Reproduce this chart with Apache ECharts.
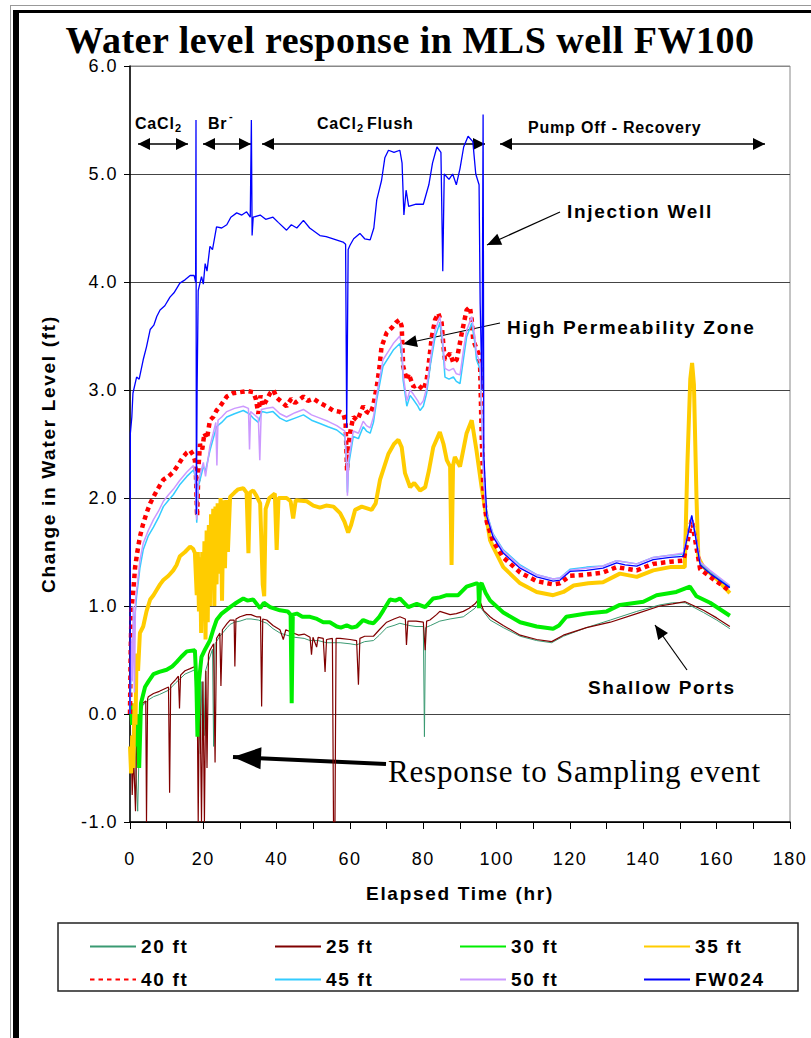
<!DOCTYPE html>
<html style="height:100%">
<head>
    <meta charset="utf-8">
    <title>Water level response in MLS well FW100</title>
    <script src="https://cdn.jsdelivr.net/npm/echarts@6/dist/echarts.min.js"></script>
    <style>
        html, body { margin: 0; padding: 0; background: #fff; }
    </style>
</head>
<body>
    <div id="main" style="width:811px;height:1038px;"></div>
    <script type="text/javascript">
        // series data: [elapsed hr, change in water level ft]
        var s20ft = [[0.3,-0.3],[0.8,-0.5],[1.3,-0.2],[1.7,-0.6],[2.1,-0.9],[2.5,-0.3],[3,0.0],[3.5,0.08],[5,0.13],[6.4,0.16],[8,0.18],[10.5,0.22],[12.5,0.29],[13.8,0.33],[15,0.37],[16.4,0.39],[17.7,0.41],[18.2,-0.1],[18.5,0.35],[19.2,-0.37],[19.6,0.3],[20.2,-0.2],[20.6,0.4],[21.5,0.5],[22.5,0.6],[22.8,-0.3],[23.2,0.65],[24.5,0.72],[26.5,0.8],[27.3,0.83],[28.5,0.85],[30,0.86],[31.8,0.88],[33,0.88],[35,0.87],[37.3,0.84],[39,0.79],[40.9,0.75],[42.7,0.73],[45,0.71],[47.5,0.7],[49.1,0.68],[51.3,0.68],[53.6,0.66],[55.2,0.66],[57.3,0.66],[60,0.65],[61.8,0.64],[64,0.67],[66.4,0.68],[68,0.73],[70,0.8],[72,0.82],[73.6,0.84],[76,0.82],[78,0.81],[80,0.81],[80.3,-0.21],[80.6,0.8],[82,0.82],[84.5,0.86],[87.3,0.88],[90.9,0.9],[92.5,0.94],[94.1,0.98],[95,1.02],[96.4,0.95],[98.2,0.87],[101.8,0.8],[106.4,0.72],[110.9,0.68],[115,0.66],[118.2,0.72],[124.5,0.8],[131,0.87],[138.2,0.95],[144.5,1.01],[148,1.03],[151.4,1.03],[156.4,0.94],[160,0.87],[163.6,0.79]];
        var s25ft = [[0.3,-0.2],[0.6,-0.75],[1,-0.4],[1.5,-0.9],[1.8,-0.24],[2.3,-0.5],[2.8,0.0],[3.5,0.1],[4.3,0.12],[4.5,-1.0],[4.8,0.14],[5,0.16],[6.4,0.19],[8,0.21],[10.5,0.25],[10.8,-0.73],[11.1,0.27],[12.5,0.32],[13.2,0.35],[13.5,0.05],[13.8,0.36],[15,0.4],[16.4,0.42],[17.7,0.44],[18.3,0.3],[18.6,-1.0],[19,0.45],[19.5,-1.0],[19.9,0.3],[20.3,-1.0],[20.7,0.4],[21,-0.5],[21.4,0.55],[21.8,0.59],[22.8,0.65],[23.2,-0.45],[23.6,0.7],[24.5,0.75],[24.8,0.26],[25.2,0.78],[26.5,0.84],[27.3,0.87],[28.4,0.87],[28.6,0.44],[28.9,0.88],[30,0.9],[31.8,0.92],[33,0.92],[34.5,0.9],[35.6,0.9],[35.9,0.07],[36.2,0.88],[37.3,0.87],[39,0.82],[40.9,0.78],[41.8,0.69],[42.5,0.78],[44.5,0.75],[46,0.73],[47.5,0.74],[49.1,0.71],[49.5,0.55],[49.9,0.71],[50.9,0.62],[51.3,0.71],[52.7,0.7],[53.2,0.39],[53.6,0.69],[55.2,0.7],[55.5,-1.0],[55.9,-1.0],[56.2,0.7],[57.3,0.7],[60,0.69],[61.8,0.68],[62.3,0.27],[62.7,0.7],[64,0.72],[66.4,0.72],[68,0.78],[70,0.85],[72,0.88],[73.6,0.9],[75.1,0.88],[75.4,0.64],[75.8,0.86],[78,0.86],[80,0.85],[80.5,0.59],[80.9,0.86],[81.8,0.87],[83.6,0.92],[84.5,0.95],[87.3,0.92],[89,0.93],[90.9,0.95],[92.5,0.98],[94.1,1.02],[95,1.06],[95.5,1.04],[96.4,0.96],[98.2,0.9],[99,0.88],[101.8,0.82],[106.4,0.73],[110.9,0.69],[115,0.67],[118.2,0.73],[124.5,0.8],[131,0.85],[138.2,0.93],[144.5,1.0],[148,1.02],[151.4,1.04],[156.4,0.96],[160,0.89],[163.6,0.81]];
        var s30ft = [[0.2,0.1],[0.6,-0.1],[1,0.05],[1.5,-0.3],[2,0.0],[2.5,-0.5],[3,0.1],[4.1,0.25],[5,0.3],[6.4,0.37],[8,0.39],[10,0.41],[11.5,0.44],[12.7,0.48],[14,0.53],[15.5,0.58],[17.7,0.59],[18.1,0.3],[18.4,-0.21],[18.8,0.3],[19.5,0.53],[20.5,0.6],[21.8,0.68],[22.7,0.78],[23.6,0.87],[25,0.93],[27.3,0.99],[29,1.03],[30.9,1.07],[32,1.05],[33.6,1.06],[35,1.0],[35.5,0.98],[36.5,1.03],[38.2,0.99],[40.9,0.96],[43,0.95],[43.8,0.92],[44.1,0.1],[44.4,0.92],[45.5,0.93],[47,0.9],[49.1,0.9],[51,0.88],[52.7,0.85],[54.5,0.85],[56.4,0.81],[57.5,0.8],[59.1,0.82],[60.5,0.8],[61.8,0.81],[63.6,0.87],[65,0.85],[66.4,0.84],[68,0.9],[69.1,0.96],[70.9,1.06],[72.5,1.05],[73.6,1.07],[75.9,0.99],[78.2,1.02],[80.5,0.99],[82.7,1.07],[84.5,1.08],[86.4,1.1],[89.5,1.1],[91.8,1.18],[94.5,1.21],[95,1.2],[95.2,0.98],[95.5,1.2],[95.9,1.21],[97,1.12],[98.2,1.05],[101.8,0.94],[106.4,0.85],[110.9,0.81],[115.4,0.79],[117,0.82],[119,0.9],[124.5,0.93],[130,0.95],[133.6,1.01],[140,1.04],[143.6,1.1],[149,1.13],[152.7,1.18],[154.5,1.09],[158.2,1.03],[163.6,0.91]];
        var s35ft = [[0,-0.3],[0.3,-0.55],[0.6,-0.2],[0.9,-0.5],[1.2,0.1],[1.5,-0.1],[1.8,0.56],[2.2,0.4],[2.7,0.75],[3.6,0.81],[4.5,0.95],[5.5,1.06],[6.4,1.1],[7.3,1.15],[8.2,1.2],[9.1,1.24],[10.5,1.28],[11.8,1.33],[12.7,1.38],[13.6,1.46],[15,1.5],[16.4,1.55],[17.2,1.53],[17.7,1.49],[18.2,1.1],[18.5,1.5],[18.8,0.95],[19.1,1.45],[19.4,0.75],[19.7,1.5],[20,0.9],[20.3,1.6],[20.6,0.69],[20.9,1.7],[21.2,0.85],[21.5,1.75],[21.8,1.0],[22.1,1.85],[22.4,1.15],[22.7,1.9],[23,1.0],[23.3,1.92],[23.6,1.2],[23.9,1.95],[24.3,1.3],[24.7,2.0],[25.1,1.05],[25.5,1.98],[25.9,1.35],[26.3,1.98],[26.7,1.5],[27.3,2.01],[28.5,2.05],[29.5,2.08],[30.9,2.09],[31.8,2.05],[32.3,1.49],[32.7,2.05],[33.6,2.07],[34.5,2.02],[35.5,1.95],[36.2,1.2],[36.6,1.09],[37,1.9],[38,2.0],[39.5,2.04],[40,1.52],[40.5,2.0],[42.7,2.0],[43.8,1.97],[44.5,1.81],[45.2,1.98],[48.2,1.97],[50,1.93],[51.8,1.91],[53.5,1.93],[55.5,1.92],[57.3,1.86],[58.5,1.78],[59.5,1.68],[60.3,1.75],[61.4,1.89],[63.2,1.92],[65.9,1.89],[67,1.95],[68.2,2.17],[70.5,2.41],[72,2.5],[73.2,2.54],[74.1,2.47],[75,2.23],[76.4,2.1],[77.5,2.14],[79.1,2.07],[80.5,2.1],[81.5,2.25],[82.7,2.47],[84.5,2.61],[85.5,2.5],[86.4,2.35],[87.3,2.29],[87.7,1.38],[88.1,2.3],[88.6,2.38],[90,2.29],[91.8,2.6],[93.2,2.72],[94.5,2.44],[95.9,2.1],[97.3,1.8],[98.2,1.61],[99,1.55],[101.8,1.36],[106.4,1.21],[110.9,1.13],[115.4,1.1],[118.2,1.13],[121,1.19],[125,1.21],[129,1.22],[133.6,1.3],[138.2,1.27],[142.7,1.33],[147.3,1.36],[151.3,1.36],[152,2.3],[152.8,3.1],[153.3,3.25],[153.8,3.05],[154.5,2.0],[155,1.45],[156.4,1.36],[160,1.25],[163.6,1.12]];
        var s40ft = [[0,0],[0.2,0.6],[0.45,0.99],[0.8,1.1],[1.4,1.36],[2,1.5],[2.7,1.64],[3.5,1.75],[4.5,1.86],[5.5,1.95],[6.4,2.01],[7.5,2.08],[9.1,2.17],[10.5,2.2],[11.8,2.24],[13,2.3],[14.5,2.38],[15.5,2.42],[16.4,2.44],[17.2,2.4],[17.7,2.35],[18,2.2],[18.3,1.83],[18.7,2.3],[19.1,2.5],[19.7,2.45],[20.3,2.6],[21,2.55],[21.8,2.72],[22.7,2.75],[23.6,2.81],[25,2.87],[26.4,2.94],[28,2.97],[30,2.98],[32,2.99],[33.6,2.98],[34.3,2.92],[35,2.78],[35.6,2.95],[36.3,2.85],[37.3,2.91],[38.2,2.97],[39.1,3.0],[40,2.93],[41,2.9],[42.7,2.85],[44,2.92],[45,2.88],[47.3,2.94],[48.5,2.9],[50,2.92],[51.8,2.88],[53.5,2.85],[55.4,2.81],[57,2.8],[58.2,2.78],[58.8,2.7],[59.2,2.25],[59.5,2.45],[60,2.6],[60.9,2.75],[62,2.72],[63.6,2.85],[64.5,2.8],[65.5,2.78],[66.3,2.85],[67.3,3.03],[68,3.2],[68.6,3.4],[70,3.53],[71.5,3.58],[72.7,3.63],[73.5,3.65],[74.1,3.59],[74.5,3.22],[75.5,3.09],[76,3.15],[77.3,3.03],[78.5,3.05],[80,3.0],[80.9,3.09],[81.5,3.25],[82.3,3.49],[83.2,3.65],[84.1,3.71],[85,3.62],[85.5,3.4],[85.9,3.28],[87.3,3.34],[88.2,3.25],[89.1,3.28],[90.5,3.53],[91.8,3.74],[92.7,3.77],[93.2,3.65],[93.6,3.46],[95,3.34],[95.5,3.2],[95.9,2.6],[96.4,2.05],[97.3,1.78],[99,1.6],[101.8,1.45],[106.4,1.31],[110.9,1.23],[115.4,1.2],[117.3,1.21],[120,1.28],[124.5,1.29],[129,1.31],[132.7,1.36],[138.2,1.33],[142.7,1.39],[147.3,1.41],[150.9,1.42],[152.2,1.62],[153.2,1.8],[154.1,1.62],[155.5,1.34],[158.2,1.27],[163.6,1.14]];
        var s45ft = [[0,0],[0.3,0.4],[0.8,0.7],[1.8,1.09],[2.7,1.35],[3.6,1.52],[5,1.65],[6.4,1.73],[7.8,1.82],[9.1,1.92],[10.5,1.98],[11.8,2.03],[13.5,2.12],[15.5,2.2],[17.3,2.26],[17.8,2.2],[18.2,1.77],[18.6,2.1],[20,2.29],[20.6,2.25],[21.8,2.44],[22.7,2.55],[23.6,2.66],[25,2.7],[26.4,2.75],[28.5,2.78],[30.9,2.81],[32.5,2.78],[33.6,2.74],[35,2.7],[36,2.8],[37.3,2.79],[39,2.8],[40.9,2.74],[42.7,2.71],[45,2.74],[47.3,2.77],[49.5,2.72],[51.8,2.69],[54,2.66],[56.4,2.63],[58.6,2.57],[59.1,2.3],[59.3,2.05],[59.6,2.3],[60.9,2.57],[62.3,2.55],[63.6,2.66],[64.5,2.62],[65.5,2.6],[66.4,2.7],[67.3,2.91],[69,3.22],[70.5,3.3],[71.8,3.37],[73.6,3.43],[74.2,3.3],[74.5,3.09],[75.5,2.85],[76.4,2.95],[77.3,2.91],[78.5,2.85],[79.1,2.81],[80,2.85],[80.9,2.97],[82,3.25],[83.2,3.49],[84.5,3.62],[85.2,3.45],[85.9,3.12],[87,3.1],[88.2,3.12],[89,3.08],[90,3.06],[91,3.3],[91.8,3.49],[93.2,3.62],[94,3.45],[94.5,3.28],[95.5,3.19],[96,2.7],[96.5,2.15],[97.3,1.86],[99,1.67],[101.8,1.52],[106.4,1.38],[110.9,1.29],[115.4,1.25],[117.3,1.26],[120,1.34],[124.5,1.36],[129,1.37],[132.7,1.42],[138.2,1.39],[142.7,1.45],[147.3,1.47],[150.9,1.48],[152.2,1.68],[153.2,1.83],[154.1,1.67],[155.5,1.4],[158.2,1.32],[163.6,1.18]];
        var s50ft = [[0,0],[0.3,0.7],[0.6,0.3],[0.9,1.0],[1.2,0.2],[1.5,1.05],[2,1.2],[2.7,1.42],[3.6,1.58],[5,1.7],[6.4,1.8],[7.8,1.88],[9.1,1.97],[10.5,2.03],[11.8,2.08],[13.5,2.16],[15.5,2.24],[17.3,2.3],[17.8,2.22],[18.2,1.8],[18.6,2.15],[20,2.33],[20.6,2.2],[21.8,2.48],[22.7,2.6],[23.4,2.7],[23.7,2.3],[24,2.72],[25,2.75],[26.4,2.8],[28.5,2.83],[30.9,2.85],[32.3,2.83],[32.6,2.45],[32.9,2.8],[33.6,2.78],[35,2.74],[35.4,2.35],[35.8,2.82],[37.3,2.83],[39,2.84],[40.9,2.78],[42.7,2.75],[45,2.79],[47.3,2.82],[49.5,2.77],[51.8,2.74],[54,2.71],[56.4,2.67],[58.6,2.62],[59.1,2.3],[59.3,2.02],[59.6,2.35],[60.9,2.62],[62.3,2.6],[63.6,2.71],[64.5,2.67],[65.5,2.65],[66.4,2.75],[67.3,2.96],[69,3.28],[70.5,3.36],[71.8,3.43],[73.6,3.5],[74.2,3.38],[74.5,3.14],[75.5,2.9],[76.4,3.0],[77.3,2.96],[78.5,2.9],[79.1,2.86],[80,2.9],[80.9,3.02],[82,3.3],[83.2,3.55],[84.5,3.68],[85.2,3.5],[85.9,3.2],[87,3.18],[88.2,3.2],[89,3.15],[90,3.14],[91,3.38],[91.8,3.55],[93.2,3.68],[94,3.5],[94.5,3.34],[95.5,3.25],[96,2.72],[96.5,2.14],[97.3,1.85],[99,1.66],[101.8,1.51],[106.4,1.37],[110.9,1.29],[115.4,1.25],[117.3,1.26],[120,1.33],[124.5,1.35],[129,1.37],[132.7,1.42],[138.2,1.39],[142.7,1.45],[147.3,1.47],[150.9,1.49],[152.2,1.68],[153.2,1.82],[154.1,1.68],[155.5,1.41],[158.2,1.33],[163.6,1.19]];
        var fw024 = [[0,0],[0.1,2.6],[0.5,2.75],[0.8,2.97],[1.8,3.12],[2.5,3.1],[3.6,3.28],[4.5,3.4],[5.5,3.56],[6.5,3.6],[7.3,3.68],[8.2,3.74],[9.5,3.78],[10.9,3.86],[12,3.9],[13.6,3.99],[15,4.02],[16.4,4.06],[17.5,4.06],[17.9,4.0],[18,5.5],[18.1,1.85],[18.3,3.0],[18.6,3.92],[19.5,4.05],[20,3.98],[20.5,4.17],[21,4.1],[21.8,4.33],[22.5,4.3],[23.6,4.51],[25,4.5],[26.4,4.53],[27.5,4.6],[29.1,4.64],[30.5,4.62],[31.8,4.65],[32.8,4.6],[33.1,5.5],[33.3,4.43],[33.6,4.6],[35.5,4.62],[37,4.58],[39,4.6],[40.5,4.55],[42.7,4.48],[44,4.53],[45.5,4.5],[47.3,4.57],[49,4.5],[51.8,4.43],[53.5,4.42],[55.4,4.4],[58.1,4.37],[58.8,4.35],[59.1,2.65],[59.5,4.3],[60,4.34],[61,4.4],[62.7,4.45],[64,4.4],[65.5,4.39],[66.5,4.5],[67.3,4.76],[68.6,4.94],[69.5,5.15],[70.5,5.22],[72,5.2],[73.6,5.22],[74.2,5.1],[74.7,4.62],[75.3,4.85],[76,4.7],[78,4.72],[80,4.72],[81.5,4.9],[82.5,5.1],[83.7,5.25],[84.8,5.2],[85.3,4.1],[85.7,5.0],[87,4.95],[88,5.0],[89,4.9],[90,5.05],[91,5.25],[92.2,5.35],[93.5,5.3],[94.3,5.0],[95.2,4.9],[95.5,3.8],[96,3.0],[96.3,5.55],[96.5,2.4],[97.3,1.83],[99,1.64],[101.8,1.49],[106.4,1.35],[110.9,1.27],[115.4,1.23],[117.3,1.24],[120,1.32],[124.5,1.33],[129,1.35],[132.7,1.4],[135,1.38],[138.2,1.37],[142.7,1.43],[147.3,1.45],[150.9,1.46],[152.2,1.67],[153.2,1.84],[154.1,1.67],[155.5,1.38],[158.2,1.3],[163.6,1.17]];

        var seriesNames = ['20 ft', '25 ft', '30 ft', '35 ft', '40 ft', '45 ft', '50 ft', 'FW024'];
        var seriesData = [s20ft, s25ft, s30ft, s35ft, s40ft, s45ft, s50ft, fw024];
        var yTicks = [-1, 0, 1, 2, 3, 4, 5, 6];

        var styles = [
            { color: '#3a9a72', width: 1 },
            { color: '#800000', width: 1.2 },
            { color: '#00ee00', width: 4 },
            { color: '#ffcc00', width: 4 },
            { color: '#ff0000', width: 4.5, type: [4.5, 4] },
            { color: '#33ccff', width: 1.5 },
            { color: '#cc99ff', width: 1.5 },
            { color: '#0000ff', width: 1.3 }
        ];

        var SANS = 'Liberation Sans';
        var SERIF = 'Liberation Serif';

        var myChart = echarts.init(document.getElementById('main'), null, { renderer: 'svg' });

        // arrow helpers (annotation drawing)
        function head(x1, y1, x2, y2, len, half) {
            var dx = x2 - x1, dy = y2 - y1, d = Math.sqrt(dx * dx + dy * dy);
            var ux = dx / d, uy = dy / d;
            var bx = x2 - ux * len, by = y2 - uy * len;
            return {
                type: 'polygon',
                shape: { points: [[x2, y2], [bx - uy * half, by + ux * half], [bx + uy * half, by - ux * half]] },
                style: { fill: '#000' }
            };
        }
        function arrow(x1, y1, x2, y2, w, len, half, both) {
            var out = [{
                type: 'line',
                shape: { x1: x1, y1: y1, x2: x2, y2: y2 },
                style: { stroke: '#000', lineWidth: w }
            }, head(x1, y1, x2, y2, len, half)];
            if (both) out.push(head(x2, y2, x1, y1, len, half));
            return out;
        }
        function label(txt, x, y, size, opts) {
            opts = opts || {};
            return {
                type: 'text',
                x: x, y: y,
                style: {
                    text: txt,
                    fill: '#000',
                    font: (opts.weight || 'bold') + ' ' + size + 'px "' + (opts.family || SANS) + '"',
                    textAlign: opts.align || 'left',
                    textVerticalAlign: 'middle'
                }
            };
        }
        function frameLine(x1, y1, x2, y2, w, c) {
            return {
                type: 'line', z: 100,
                shape: { x1: x1, y1: y1, x2: x2, y2: y2 },
                style: { stroke: c, lineWidth: w }
            };
        }

        var graphics = [
            // slide frame
            frameLine(10.5, 5, 10.5, 1038, 1, '#999'),
            frameLine(10, 5.5, 811, 5.5, 1, '#999'),
            frameLine(16, 10, 16, 1038, 6, '#000'),
            frameLine(13, 11.5, 811, 11.5, 3, '#000'),
            // title
            label('Water level response in MLS well FW100', 410, 40, 38, { family: SERIF, align: 'center' }),
            // phase labels
            label('CaCl', 135, 123, 16),
            label('2', 175, 128, 11),
            label('Br', 208, 123, 16),
            label('-', 229, 116, 11),
            label('CaCl', 317, 123, 16),
            label('2', 357, 128, 11),
            label('Flush', 367, 123, 16),
            label('Pump Off - Recovery', 528, 127, 16),
            // callouts
            label('Injection Well', 567, 211, 19),
            label('High Permeability Zone', 507, 327, 19),
            label('Shallow Ports', 588, 687, 19),
            label('Response to Sampling event', 388, 771, 31, { family: SERIF, weight: 'normal' }),
            // legend box
            { type: 'rect', shape: { x: 58, y: 923, width: 740, height: 68 }, style: { fill: 'none', stroke: '#222', lineWidth: 1.5 } }
        ];
        graphics = graphics
            .concat(arrow(138, 144, 188, 144, 1.5, 12, 6, true))
            .concat(arrow(203, 144, 251, 144, 1.5, 12, 6, true))
            .concat(arrow(262, 144, 485, 144, 1.5, 12, 6, true))
            .concat(arrow(500, 144, 765, 144, 1.5, 12, 6, true))
            .concat(arrow(560, 212, 487, 245, 1.2, 14, 6))
            .concat(arrow(500, 323, 403, 344, 1.2, 14, 6))
            .concat(arrow(687, 670, 655, 625, 1.2, 14, 6))
            .concat(arrow(386, 764, 233, 757, 4, 28, 11));

        // one legend block per entry, laid out as 4 columns x 2 rows
        var legendCols = [84, 269, 454, 638];
        var legendRows = [932, 965];
        var legends = seriesNames.map(function (name, i) {
            return {
                data: [name],
                left: legendCols[i % 4],
                top: legendRows[Math.floor(i / 4)],
                itemWidth: 46,
                itemHeight: 14,
                itemGap: 0,
                selectedMode: false,
                itemStyle: { opacity: 0 },
                textStyle: { fontFamily: SANS, fontWeight: 'bold', fontSize: 19, color: '#000' }
            };
        });

        var option = {
            backgroundColor: '#fff',
            animation: false,
            grid: {
                left: 130, right: 21, top: 66, bottom: 216,
                show: true, borderColor: '#888', borderWidth: 1, backgroundColor: 'transparent'
            },
            legend: legends,
            xAxis: {
                type: 'value',
                min: 0, max: 180, interval: 10,
                name: 'Elapsed Time (hr)',
                nameLocation: 'middle',
                nameGap: 62,
                nameTextStyle: { fontFamily: SANS, fontWeight: 'bold', fontSize: 19, color: '#000' },
                axisLine: { show: true, onZero: false, lineStyle: { color: '#000', width: 1.5 } },
                axisTick: { show: true, inside: false, length: 7, lineStyle: { color: '#000' } },
                axisLabel: {
                    margin: 28, fontFamily: SANS, fontSize: 18, color: '#000',
                    formatter: function (v) { return v % 20 === 0 ? String(v) : ''; }
                },
                splitLine: { show: false }
            },
            yAxis: {
                type: 'value',
                min: yTicks[0], max: yTicks[yTicks.length - 1], interval: 1,
                name: 'Change in Water Level (ft)',
                nameLocation: 'middle',
                nameGap: 72,
                nameTextStyle: { fontFamily: SANS, fontWeight: 'bold', fontSize: 19, color: '#000', padding: [0, 20, 0, 0] },
                axisLine: { show: true, onZero: false, lineStyle: { color: '#000', width: 1.5 } },
                axisTick: { show: true, length: 6, lineStyle: { color: '#000' } },
                axisLabel: {
                    margin: 12, fontFamily: SANS, fontSize: 18, color: '#000',
                    formatter: function (v) { return v.toFixed(1); }
                },
                splitLine: {
                    show: true,
                    lineStyle: { color: ['#000', '#444', '#444', '#444', '#444', '#444', '#444', '#888'], width: 1 }
                }
            },
            graphic: graphics,
            series: seriesNames.map(function (name, i) {
                var st = styles[i];
                return {
                    name: name,
                    type: 'line',
                    data: seriesData[i],
                    showSymbol: false,
                    symbol: 'none',
                    clip: true,
                    color: st.color,
                    lineStyle: { color: st.color, width: st.width, type: st.type || 'solid', cap: 'butt' }
                };
            })
        };

        myChart.setOption(option);

        // widen the sans-serif lettering like the original slide
        document.querySelectorAll('#main text').forEach(function (t) {
            var cs = getComputedStyle(t);
            var size = parseFloat(cs.fontSize);
            var sp = 0;
            if (cs.fontFamily.indexOf('Serif') >= 0) {
                sp = size > 34 ? 0.5 : 0.8;
            } else if (size >= 19) {
                sp = 1.7;
            } else if (size >= 18) {
                sp = 1.5;
            } else if (size >= 16) {
                sp = 0.8;
            }
            t.style.letterSpacing = sp + 'px';
        });
    </script>
</body>
</html>
